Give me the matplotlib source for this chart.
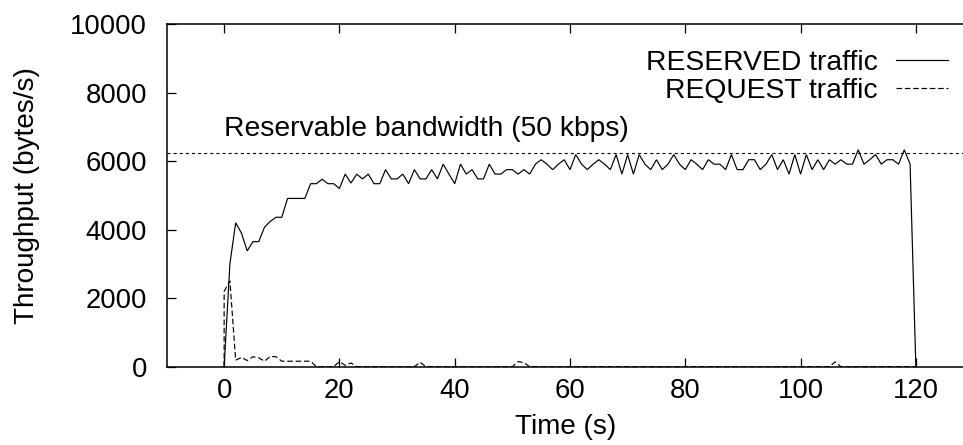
import matplotlib
matplotlib.use("Agg")
import matplotlib.pyplot as plt
import numpy as np

plt.rcParams['font.family'] = ['Liberation Sans', 'DejaVu Sans']
plt.rcParams['lines.scale_dashes'] = False

# one sample per second of the experiment
time_s = np.arange(0, 121)

# throughput of the RESERVED flow (bytes/s)
reserved = [
    0, 3000, 4200, 3900, 3380, 3650, 3650, 4070, 4240, 4360,
    4360, 4910, 4910, 4910, 4910, 5340, 5340, 5470, 5340, 5340,
    5200, 5620, 5360, 5620, 5480, 5620, 5340, 5340, 5750, 5480,
    5480, 5620, 5340, 5750, 5480, 5480, 5750, 5480, 5910, 5620,
    5340, 5910, 5620, 5750, 5480, 5480, 5910, 5620, 5620, 5750,
    5750, 5620, 5750, 5620, 5910, 6040, 5910, 5750, 5910, 6040,
    5750, 6190, 5910, 5750, 5910, 6040, 5910, 5750, 6190, 5620,
    6190, 5620, 6190, 5910, 5750, 6040, 5750, 5910, 6190, 5910,
    5750, 6040, 5910, 5750, 6040, 5910, 5910, 5750, 6190, 5750,
    5750, 6040, 6040, 5750, 5910, 6190, 5750, 6040, 5620, 6190,
    5620, 6190, 5750, 6040, 5750, 6040, 5910, 6040, 5910, 5910,
    6330, 5910, 6040, 6190, 5910, 6040, 6040, 5910, 6330, 5910,
    0,
]

# throughput of the REQUEST signalling traffic (bytes/s)
request_time = np.concatenate([[0], time_s])
request = [
    0,
    2200, 2500, 190, 270, 180, 290, 260, 160, 300, 290,
    160, 160, 160, 160, 160, 160, 0, 0, 0, 0,
    150, 40, 110, 0, 0, 0, 0, 0, 0, 0,
    0, 0, 0, 0, 130, 0, 0, 0, 0, 0,
    0, 0, 0, 0, 0, 0, 0, 0, 0, 0,
    0, 150, 120, 0, 0, 0, 0, 0, 0, 0,
    0, 0, 0, 0, 0, 0, 0, 0, 0, 0,
    0, 0, 0, 0, 0, 0, 0, 0, 0, 0,
    0, 0, 0, 0, 0, 0, 0, 0, 0, 0,
    0, 0, 0, 0, 0, 0, 0, 0, 0, 0,
    0, 0, 0, 0, 0, 0, 140, 0, 0, 0,
    0, 0, 0, 0, 0, 0, 0, 0, 0, 0,
    0,
]

reservable_bw = 6250          # 50 kbps expressed in bytes/s
x_ticks = [0, 20, 40, 60, 80, 100, 120]
y_ticks = [0, 2000, 4000, 6000, 8000, 10000]

FS_TICK = 19.8
FS_TEXT = 20.3
W, H = 963, 445

fig = plt.figure(figsize=(W / 100, H / 100), dpi=100)
left, right, top, bottom = 166.5, 973.5, 24.0, 366.7
ax = fig.add_axes([left / W, 1 - bottom / H, (right - left) / W, (bottom - top) / H])

ax.set_xlim(-10, 130)
ax.set_ylim(0, 10000)

ax.axhline(reservable_bw, color='black', lw=0.8, ls=(0, (2.2, 2.2)), zorder=1)
ax.plot(time_s, reserved, color='black', lw=0.85, solid_joinstyle='miter',
        label='RESERVED traffic', zorder=3)
ax.plot(request_time, request, color='black', lw=0.85, ls=(0, (4.0, 2.0)),
        label='REQUEST traffic', zorder=2)

ax.text(0, 6950, 'Reservable bandwidth (50 kbps)', fontsize=FS_TEXT,
        ha='left', va='center')

ax.set_xticks(x_ticks)
ax.set_yticks(y_ticks)
ax.set_xticklabels([str(v) for v in x_ticks])
ax.set_yticklabels([str(v) for v in y_ticks])
ax.tick_params(axis='both', direction='in', length=6.2, width=0.9,
               top=True, right=True, labelsize=FS_TICK, colors='black')
ax.tick_params(axis='x', pad=8.2)
ax.tick_params(axis='y', pad=14.0)
for sp in ax.spines.values():
    sp.set_linewidth(1.1)

ax.set_xlabel('Time (s)', fontsize=20.1, va='center')
ax.xaxis.set_label_coords((566 - left) / (right - left), (bottom - 427) / (bottom - top))
ax.set_ylabel('Throughput (bytes/s)', fontsize=20.1, va='center')
ax.yaxis.set_label_coords((27 - left) / (right - left), 0.5)

leg = ax.legend(loc='upper right', bbox_to_anchor=(947.7 / W, 1 - 50 / H),
                bbox_transform=fig.transFigure, markerfirst=False, frameon=False,
                handlelength=1.85, handletextpad=0.62, labelspacing=0.06,
                borderpad=0.0, borderaxespad=0.0, fontsize=FS_TEXT)

fig.savefig('out.png', dpi=100)
